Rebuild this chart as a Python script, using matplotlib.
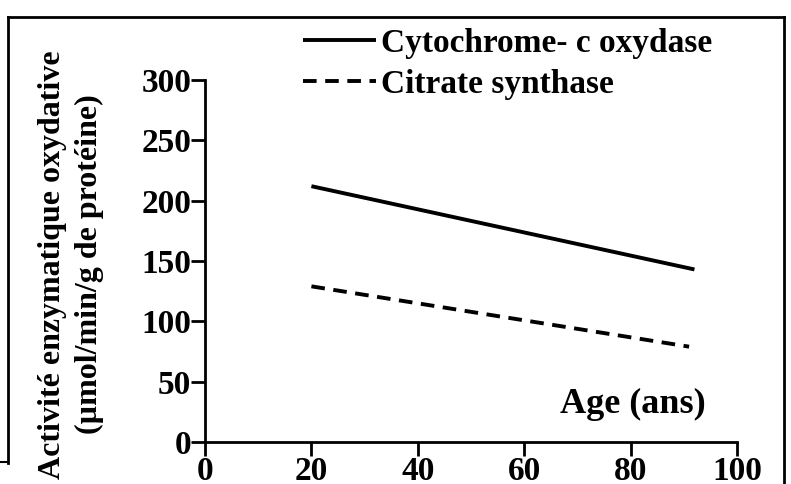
import matplotlib
matplotlib.use("Agg")
import matplotlib.pyplot as plt
from matplotlib.lines import Line2D

# values
age = [20, 92]
cytochrome = [212, 143]
age_cs = [20, 91]
citrate = [129, 79]

xticks = [0, 20, 40, 60, 80, 100]
yticks = [0, 50, 100, 150, 200, 250, 300]

plt.rcParams['font.family'] = ['Liberation Serif', 'DejaVu Serif']
plt.rcParams['font.weight'] = 'bold'

fig = plt.figure(figsize=(7.91, 4.84), dpi=100)
ax = fig.add_axes([205 / 791, 1 - 442 / 484, (737 - 205) / 791, (442 - 80) / 484])

ax.plot(age, cytochrome, color='black', lw=2.8, solid_capstyle='butt',
        label='Cytochrome- c oxydase')
ax.plot(age_cs, citrate, color='black', lw=2.8, dashes=(3.5, 2.2),
        label='Citrate synthase')

ax.set_xlim(0, 100)
ax.set_ylim(0, 300)
ax.set_xticks(xticks)
ax.set_yticks(yticks)
ax.tick_params(labelsize=24, width=2, length=10, direction='out', pad=0)
for s in ['top', 'right']:
    ax.spines[s].set_visible(False)
for s in ['left', 'bottom']:
    ax.spines[s].set_linewidth(2)

ax.set_ylabel('Activité enzymatique oxydative\n(µmol/min/g de protéine)',
              fontsize=23, fontweight='bold', linespacing=1.35)
ax.yaxis.set_label_coords(-0.19, 0.49)

ax.text(94.2, 31, 'Age (ans)', ha='right', va='center', fontsize=26, fontweight='bold')

ax.legend(loc='center left', bbox_to_anchor=(303 / 791, 1 - 64 / 484),
          bbox_transform=fig.transFigure, frameon=False, fontsize=24,
          handlelength=2.2, handletextpad=0.15, labelspacing=0.3,
          borderpad=0, borderaxespad=0)

# scanned frame around the figure
fig.add_artist(Line2D([8 / 791, 784 / 791], [1 - 17 / 484, 1 - 17 / 484], color='black', lw=2))
fig.add_artist(Line2D([8 / 791, 8 / 791], [1 - 17 / 484, 1 - 463 / 484], color='black', lw=2))
fig.add_artist(Line2D([784 / 791, 784 / 791], [1 - 17 / 484, 0], color='black', lw=2))
fig.add_artist(Line2D([0, 8 / 791], [1 - 462 / 484, 1 - 462 / 484], color='black', lw=1.5))

fig.savefig('out.png', dpi=100)
